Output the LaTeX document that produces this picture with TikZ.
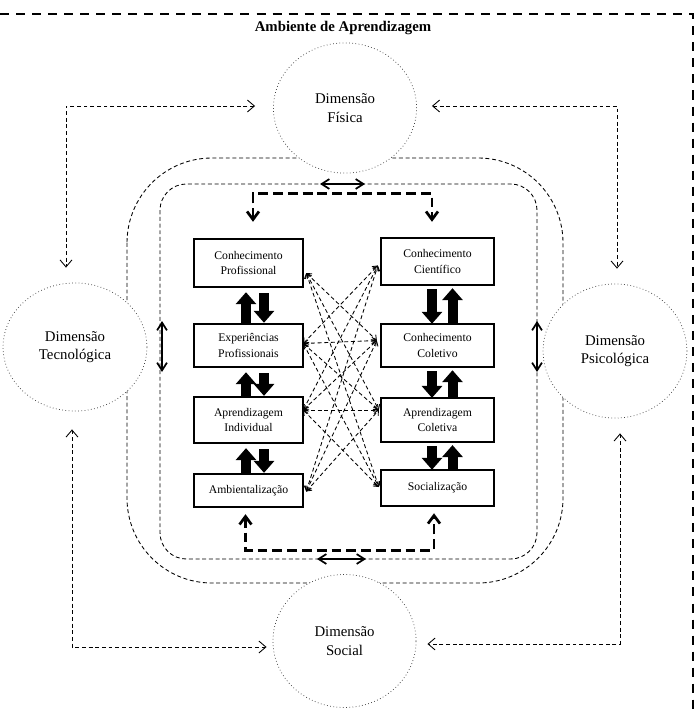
\documentclass[tikz,border=0pt]{standalone}
\usepackage{fontspec}
\setmainfont{Liberation Serif}
\usetikzlibrary{arrows.meta,calc,shapes.geometric}

\begin{document}
\begin{tikzpicture}[x=0.285mm,y=0.285mm,
  caixa/.style={draw,line width=1.9pt,align=center,font=\fontsize{9.5}{12.5}\selectfont},
  dimensao/.style={ellipse,draw=black!75,dotted,line width=0.6pt,fill=white,align=center,font=\fontsize{12}{15}\selectfont},
  fina/.style={line width=0.7pt,dash pattern=on 3.2pt off 2.2pt},
  ligacao/.style={fina,{Straight Barb[length=2mm,width=3.4mm]}-{Straight Barb[length=2mm,width=3.4mm]}},
  cruz/.style={fina,{Straight Barb[length=1.2mm,width=2mm]}-{Straight Barb[length=1.2mm,width=2mm]}},
  grossa/.style={line width=2.2pt,dash pattern=on 8pt off 4pt,{Straight Barb[length=2.3mm,width=3.4mm]}-{Straight Barb[length=2.3mm,width=3.4mm]}},
  dupla/.style={line width=1.4pt,{Straight Barb[length=2.2mm,width=2.8mm]}-{Straight Barb[length=2.2mm,width=2.8mm]}},
  bloco/.style={line width=2.85mm,-{Triangle[length=3.4mm,width=5.7mm]}},
  moldura/.style={line width=2.2pt,dash pattern=on 7.3pt off 5.7pt}]
\tikzstyle{every node}+=[inner sep=0pt]
\useasboundingbox (0,0) rectangle (699,-712);

% moldura e titulo
\draw[moldura] (0,-14) -- (693,-14) -- (693,-712);
\node[font=\fontsize{12}{14}\selectfont\bfseries] (titulo) at (343,-28) {Ambiente de Aprendizagem};

% areas
\draw[fina,rounded corners=24.2mm] (127,-158) rectangle (563,-583);
\draw[fina,rounded corners=7.5mm] (160,-184) rectangle (537,-559);

% dimensoes
\node[dimensao,minimum width=40.8mm,minimum height=37.1mm] (fis) at (345,-108) {Dimensão\\Física};
\node[dimensao,minimum width=41mm,minimum height=36.5mm] (tec) at (75,-347) {Dimensão\\Tecnológica};
\node[dimensao,minimum width=41mm,minimum height=38.2mm] (psi) at (615,-351) {Dimensão\\Psicológica};
\node[dimensao,minimum width=40.8mm,minimum height=37.9mm] (soc) at (344.5,-641) {Dimensão\\Social};

\draw[ligacao] ($(fis.west)+(-18,2)$) -| ($(tec.north)+(-9,15)$);
\draw[ligacao] ($(fis.east)+(15,2)$) -| ($(psi.north)+(2,15)$);
\draw[ligacao] ($(tec.south)+(-3,-18)$) |- ($(soc.west)+(-6,-6)$);
\draw[ligacao] ($(psi.south)+(5,-15)$) |- ($(soc.east)+(11,-3)$);

% caixas
\node[caixa,minimum width=31.1mm,minimum height=13.7mm] (cp) at (248.5,-263) {Conhecimento\\Profissional};
\node[caixa,minimum width=31.1mm,minimum height=12.3mm] (ep) at (248.5,-345.5) {Experiências\\Profissionais};
\node[caixa,minimum width=31.1mm,minimum height=13.1mm] (ai) at (248.5,-420) {Aprendizagem\\Individual};
\node[caixa,minimum width=31.1mm,minimum height=9.4mm] (amb) at (248.5,-490.5) {Ambientalização};
\node[caixa,minimum width=32.2mm,minimum height=13.4mm] (cc) at (437.5,-261.5) {Conhecimento\\Científico};
\node[caixa,minimum width=32.2mm,minimum height=12.3mm] (ccol) at (437.5,-345.5) {Conhecimento\\Coletivo};
\node[caixa,minimum width=32.2mm,minimum height=12.5mm] (ac) at (437.5,-420) {Aprendizagem\\Coletiva};
\node[caixa,minimum width=32.2mm,minimum height=10.3mm] (socz) at (437.5,-488) {Socialização};

% setas cheias
\foreach \a/\b in {cp/ep,ep/ai,ai/amb} {
  \draw[bloco] ($(\b.north)+(-2.5,0)$) -- ($(\a.south)+(-2.5,-4)$);
  \draw[bloco] ($(\a.south)+(15.5,-5)$) -- ($(\b.north)+(15.5,0)$);
}
\foreach \a/\b in {cc/ccol,ccol/ac,ac/socz} {
  \draw[bloco] ($(\a.south)+(-5.5,-3)$) -- ($(\b.north)+(-5.5,-1)$);
  \draw[bloco] ($(\b.north)+(15,0)$) -- ($(\a.south)+(15,-2)$);
}

% ligacoes cruzadas
\coordinate (pl1) at ($(cp.east)+(2,-10)$);
\coordinate (pl2) at ($(ep.east)+(-1,2)$);
\coordinate (pl3) at ($(ai.east)+(-1,10)$);
\coordinate (pl4) at ($(amb.east)+(2,-1)$);
\coordinate (pr1) at ($(cc.west)+(-2,-4)$);
\coordinate (pr2) at ($(ccol.west)+(-3,5)$);
\coordinate (pr3) at ($(ac.west)+(-1,10)$);
\coordinate (pr4) at ($(socz.west)+(-1,1)$);
\foreach \i/\j in {1/2,1/3,1/4,2/1,2/2,2/3,2/4,3/1,3/2,3/3,3/4,4/1,4/2,4/3}
  \draw[cruz] (pl\i) -- (pr\j);

% ligacoes grossas
\coordinate (ct1) at ($(cp.north)+(4.5,16)$);
\coordinate (ct2) at ($(cc.north)+(-5.5,15)$);
\coordinate (cb1) at ($(amb.south)+(-3,-6)$);
\coordinate (cb2) at ($(socz.south)+(-3.5,-6)$);
\draw[grossa] (ct1) -- ++(0,28) -| (ct2);
\draw[grossa] (cb1) -- ++(0,-36) -| (cb2);

% setas duplas
\coordinate (dt1) at (320,-184);
\coordinate (dt2) at (365,-184);
\coordinate (db1) at (317,-559);
\coordinate (db2) at (366,-559);
\coordinate (de1) at (162,-321);
\coordinate (de2) at (162,-372);
\coordinate (dd1) at (537,-321);
\coordinate (dd2) at (537,-372);
\draw[dupla] (dt1) -- (dt2);
\draw[dupla] (db1) -- (db2);
\draw[dupla] (de1) -- (de2);
\draw[dupla] (dd1) -- (dd2);
\end{tikzpicture}
\end{document}
